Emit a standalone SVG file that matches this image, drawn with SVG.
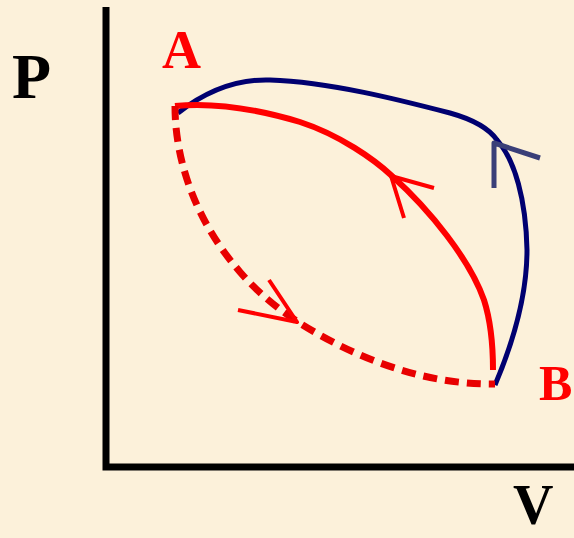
<svg xmlns="http://www.w3.org/2000/svg" width="574" height="538" viewBox="0 0 574 538">
<style>
.lbl{font-family:"Liberation Serif","Times New Roman",serif;font-weight:bold}
.red{fill:#FF0000}
.ax{stroke:#000;stroke-width:7;fill:none}
.c{fill:none;stroke-linecap:butt;stroke-linejoin:round}
</style>
<rect width="574" height="538" fill="#FCF1DA"/>
<g id="axes">
<polyline class="ax" points="106,7 106,467 574,467"/>
</g>
<g id="label-P"><text class="lbl" x="12" y="98" font-size="64">P</text></g>
<g id="label-V"><text class="lbl" x="513" y="524" font-size="56">V</text></g>
<g id="node-A"><text class="lbl red" x="162" y="68" font-size="54">A</text></g>
<g id="node-B"><text class="lbl red" x="539" y="400" font-size="50">B</text></g>
<g id="connectors">
<path class="c" stroke="#000070" stroke-width="5" d="M178,113 C210,88 240,79 270,80 C330,82 400,100 450,113 C475,120 490,130 497,140 C515,160 526,200 527,250 C527,295 512,345 495,385"/>
<polyline class="c" stroke="#3A3F78" stroke-width="5" points="494,188 494,143 540,158"/>
<path class="c" stroke="#FF0000" stroke-width="6" d="M175,106 C215,102 260,110 300,122 C340,135 375,160 392,176 C430,210 470,260 484,300 C492,325 493,350 493,370"/>
<polyline class="c" stroke="#FF0000" stroke-width="4" points="434,188 391,176 404,218"/>
<path class="c" stroke="#E80000" stroke-width="7" stroke-dasharray="14 8" d="M175,106 C175,160 195,220 240,272 C260,295 280,310 298,322 C350,355 420,385 495,384"/>
<polyline class="c" stroke="#FF0000" stroke-width="4" points="269,280 297,322 238,310"/>
</g>
</svg>
